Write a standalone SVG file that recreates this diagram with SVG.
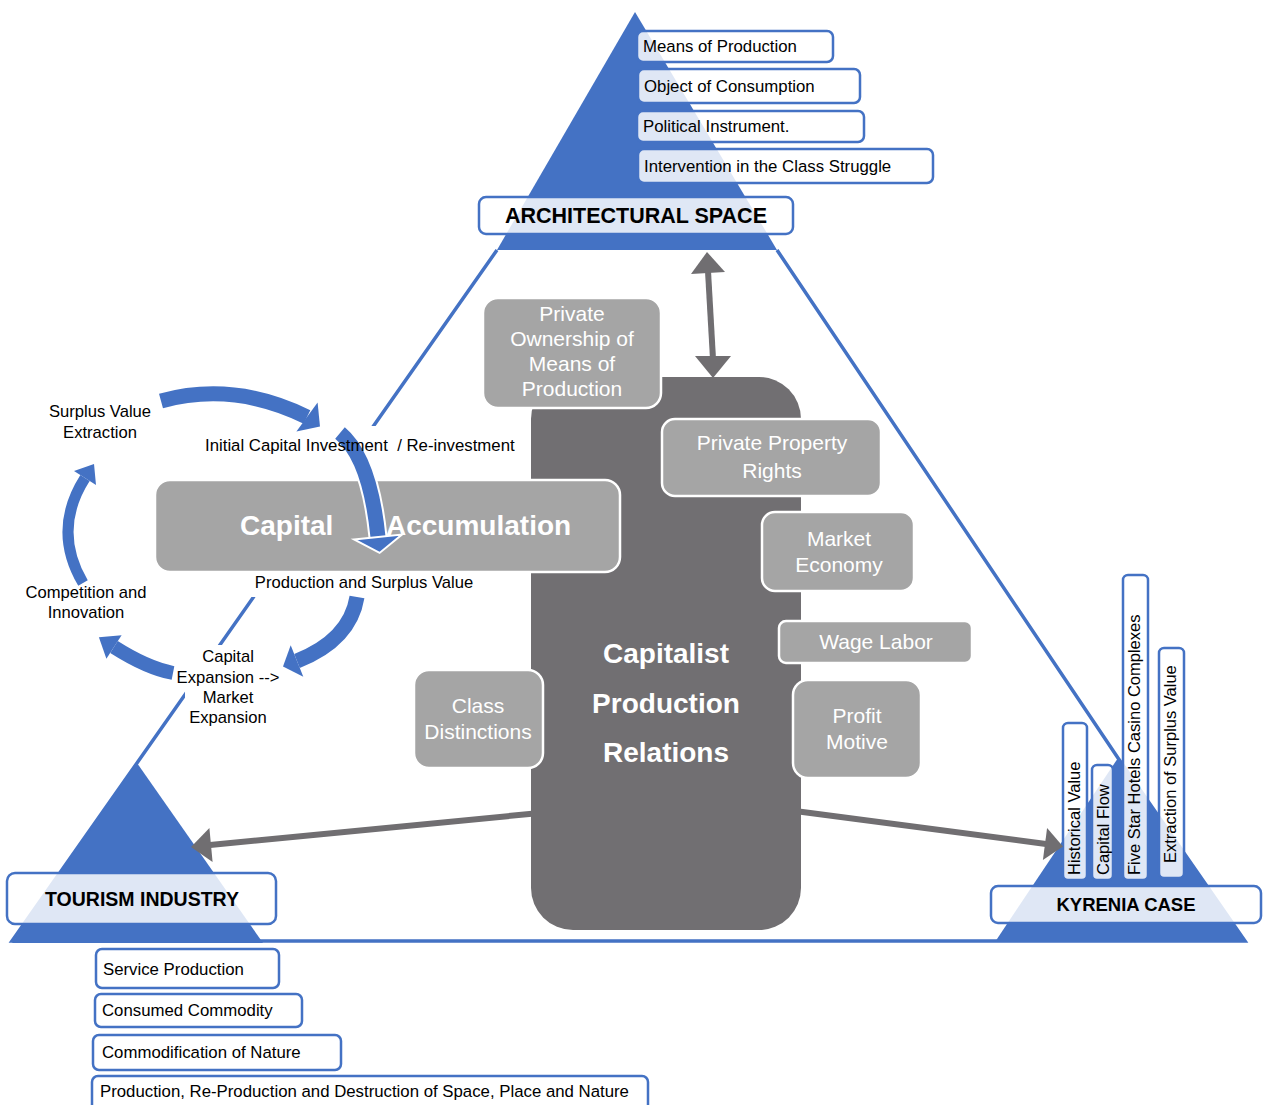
<svg xmlns="http://www.w3.org/2000/svg" width="1267" height="1105" viewBox="0 0 1267 1105">
<defs>
<style>
.tri{fill:#4472C4}
.frame{fill:none;stroke:#4472C4;stroke-width:3.5;stroke-linejoin:miter}
.tag{fill:#fff;fill-opacity:0.83;stroke:#4472C4;stroke-width:2.5}
.t{font-family:"Liberation Sans",Arial,sans-serif;fill:#000;font-size:16.8px}
.vt{font-family:"Liberation Sans",Arial,sans-serif;fill:#000;font-size:16.5px}
.title{font-family:"Liberation Sans",Arial,sans-serif;fill:#000;font-weight:bold;text-anchor:middle}
.node{fill:#A5A5A5;stroke:#fff;stroke-width:2.5}
.nt{font-family:"Liberation Sans",Arial,sans-serif;fill:#fff;font-size:21px;text-anchor:middle}
.core{fill:#716F72}
.bt{font-family:"Liberation Sans",Arial,sans-serif;fill:#fff;font-weight:bold;font-size:28px}
.cyc{fill:none;stroke:#4472C4;stroke-linecap:butt}
.head{fill:#4472C4}
.gl{stroke:#706E71;stroke-width:6;fill:none}
.gh{fill:#706E71}
.lbl{font-family:"Liberation Sans",Arial,sans-serif;fill:#000;font-size:16.6px;text-anchor:middle}
.bg{fill:#fff}
</style>
</defs>

<!-- outer frame linking the three corners -->
<polyline class="frame" points="497,250 137,763 12,941 1245,941 1118,758 777,250"/>

<!-- corner triangles -->
<polygon class="tri" points="635,12 497,250 777,250"/>
<polygon class="tri" points="137,763 12,943 263,943"/>
<polygon class="tri" points="1118,758 995,942 1245,942"/>

<!-- architectural space -->
<g id="architectural-space">
  <rect class="tag" x="479" y="197" width="314" height="37" rx="7"/>
  <text class="title" x="636" y="223" font-size="21.5">ARCHITECTURAL SPACE</text>
</g>
<g id="means-of-production">
  <rect class="tag" x="637" y="31" width="196" height="31" rx="6"/>
  <text class="t" x="643" y="52">Means of Production</text>
</g>
<g id="object-of-consumption">
  <rect class="tag" x="638" y="69" width="222" height="34" rx="6"/>
  <text class="t" x="644" y="92">Object of Consumption</text>
</g>
<g id="political-instrument">
  <rect class="tag" x="637" y="111" width="227" height="31" rx="6"/>
  <text class="t" x="643" y="132">Political Instrument.</text>
</g>
<g id="class-struggle">
  <rect class="tag" x="638" y="149" width="295" height="34" rx="6"/>
  <text class="t" x="644" y="172">Intervention in the Class Struggle</text>
</g>

<!-- tourism industry -->
<g id="tourism-industry">
  <rect class="tag" x="7" y="873" width="269" height="51" rx="8"/>
  <text class="title" x="142" y="906" font-size="19.5">TOURISM INDUSTRY</text>
</g>
<g id="service-production">
  <rect class="tag" x="96" y="949" width="183" height="39" rx="6"/>
  <text class="t" x="103" y="975">Service Production</text>
</g>
<g id="consumed-commodity">
  <rect class="tag" x="95" y="994" width="207" height="33" rx="6"/>
  <text class="t" x="102" y="1016">Consumed Commodity</text>
</g>
<g id="commodification-of-nature">
  <rect class="tag" x="93" y="1035" width="248" height="35" rx="6"/>
  <text class="t" x="102" y="1058">Commodification of Nature</text>
</g>
<g id="production-of-space">
  <rect class="tag" x="92" y="1076" width="556" height="42" rx="6"/>
  <text class="t" x="100" y="1097">Production, Re-Production and Destruction of Space, Place and Nature</text>
</g>

<!-- kyrenia case -->
<g id="historical-value">
  <rect class="tag" x="1063" y="723" width="24" height="157" rx="5"/>
  <text class="vt" transform="translate(1080,875) rotate(-90)">Historical Value</text>
</g>
<g id="capital-flow">
  <rect class="tag" x="1092" y="765" width="21" height="115" rx="5"/>
  <text class="vt" transform="translate(1109,875) rotate(-90)">Capital Flow</text>
</g>
<g id="five-star-hotels">
  <rect class="tag" x="1123" y="575" width="25" height="305" rx="5"/>
  <text class="vt" transform="translate(1140,875) rotate(-90)">Five Star Hotels Casino Complexes</text>
</g>
<g id="surplus-extraction">
  <rect class="tag" x="1159" y="648" width="25" height="230" rx="5"/>
  <text class="vt" transform="translate(1176,863) rotate(-90)">Extraction of Surplus Value</text>
</g>
<g id="kyrenia-case">
  <rect class="tag" x="991" y="886" width="270" height="37" rx="7"/>
  <text class="title" x="1126" y="911" font-size="18.5">KYRENIA CASE</text>
</g>

<!-- connectors from the production relations block -->
<g id="connectors">
  <line class="gl" x1="708" y1="271" x2="713" y2="359"/>
  <polygon class="gh" points="707,252 691,274 725,272"/>
  <polygon class="gh" points="713,378 695,356 731,356"/>
  <line class="gl" x1="540" y1="813" x2="210" y2="845"/>
  <polygon class="gh" points="191,847 209.4,828.1 212.6,861.9"/>
  <line class="gl" x1="795" y1="811" x2="1046" y2="844"/>
  <polygon class="gh" points="1063,846.5 1047.1,828.1 1042.9,859.9"/>
</g>

<!-- capitalist production relations -->
<g id="production-relations">
  <rect class="core" x="531" y="377" width="270" height="553" rx="42"/>
  <text class="bt" text-anchor="middle" x="666" y="663">Capitalist</text>
  <text class="bt" text-anchor="middle" x="666" y="713">Production</text>
  <text class="bt" text-anchor="middle" x="666" y="762">Relations</text>
</g>

<g id="private-ownership">
  <rect class="node" x="483" y="298" width="178" height="110" rx="15"/>
  <text class="nt" x="572" y="321" font-size="21.5">Private</text>
  <text class="nt" x="572" y="346" font-size="21.5">Ownership of</text>
  <text class="nt" x="572" y="371" font-size="21.5">Means of</text>
  <text class="nt" x="572" y="396" font-size="21.5">Production</text>
</g>
<g id="private-property">
  <rect class="node" x="662" y="419" width="219" height="77" rx="13"/>
  <text class="nt" x="772" y="450" font-size="22.5">Private Property</text>
  <text class="nt" x="772" y="478" font-size="22.5">Rights</text>
</g>
<g id="market-economy">
  <rect class="node" x="762" y="512" width="152" height="79" rx="13"/>
  <text class="nt" x="839" y="546" font-size="20.5">Market</text>
  <text class="nt" x="839" y="572" font-size="20.5">Economy</text>
</g>
<g id="wage-labor">
  <rect class="node" x="779" y="621" width="193" height="42" rx="7"/>
  <text class="nt" x="876" y="649" font-size="20.5">Wage Labor</text>
</g>
<g id="profit-motive">
  <rect class="node" x="793" y="680" width="128" height="98" rx="15"/>
  <text class="nt" x="857" y="723">Profit</text>
  <text class="nt" x="857" y="749">Motive</text>
</g>
<g id="class-distinctions">
  <rect class="node" x="414" y="670" width="129" height="98" rx="15"/>
  <text class="nt" x="478" y="713">Class</text>
  <text class="nt" x="478" y="739">Distinctions</text>
</g>

<!-- capital accumulation cycle -->
<g id="capital-accumulation">
  <rect class="bg" x="200" y="426" width="330" height="54"/>
  <rect class="bg" x="245" y="573" width="245" height="24"/>
  <rect class="bg" x="185" y="645" width="100" height="85"/>
  <rect class="node" x="155" y="480" width="465" height="92" rx="15"/>
  <text class="bt" x="240" y="535">Capital</text>
  <text class="bt" x="386" y="535">Accumulation</text>
</g>

<g id="cycle-arrows">
  <path class="cyc" d="M161,401 Q234,381 307,417" stroke-width="15"/>
  <polygon class="head" points="296.4,431.6 317.6,402.4 320,426.4"/>
  <path class="cyc" d="M83,583 Q52,530 85,478" stroke-width="11"/>
  <polygon class="head" points="96,485 74,471 94,464"/>
  <path class="cyc" d="M173,673 Q147,668 114,647" stroke-width="14"/>
  <polygon class="head" points="121.6,635.2 106.4,658.8 98.9,637.3"/>
  <path class="cyc" d="M357,597 Q350,640 297,661" stroke-width="15"/>
  <polygon class="head" points="303.3,676.8 290.7,645.2 283,666.6"/>
  <path d="M340,433 Q370,458 378,537" fill="none" stroke="#fff" stroke-width="19"/>
  <path class="cyc" d="M340,433 Q370,458 378,537" stroke-width="15"/>
  <polygon class="head" points="354,539.4 402,534.6 379.6,552.9" stroke="#fff" stroke-width="2"/>
</g>

<g id="cycle-labels">
  <text class="lbl" x="100" y="417">Surplus Value</text>
  <text class="lbl" x="100" y="438">Extraction</text>
  <text class="t" x="205" y="451" font-size="17.3" xml:space="preserve">Initial Capital Investment  / Re-investment</text>
  <text class="lbl" x="364" y="588">Production and Surplus Value</text>
  <text class="lbl" x="86" y="598" font-size="17">Competition and</text>
  <text class="lbl" x="86" y="618" font-size="17">Innovation</text>
  <text class="lbl" x="228" y="662">Capital</text>
  <text class="lbl" x="228" y="683">Expansion --&gt;</text>
  <text class="lbl" x="228" y="703">Market</text>
  <text class="lbl" x="228" y="723">Expansion</text>
</g>
</svg>
